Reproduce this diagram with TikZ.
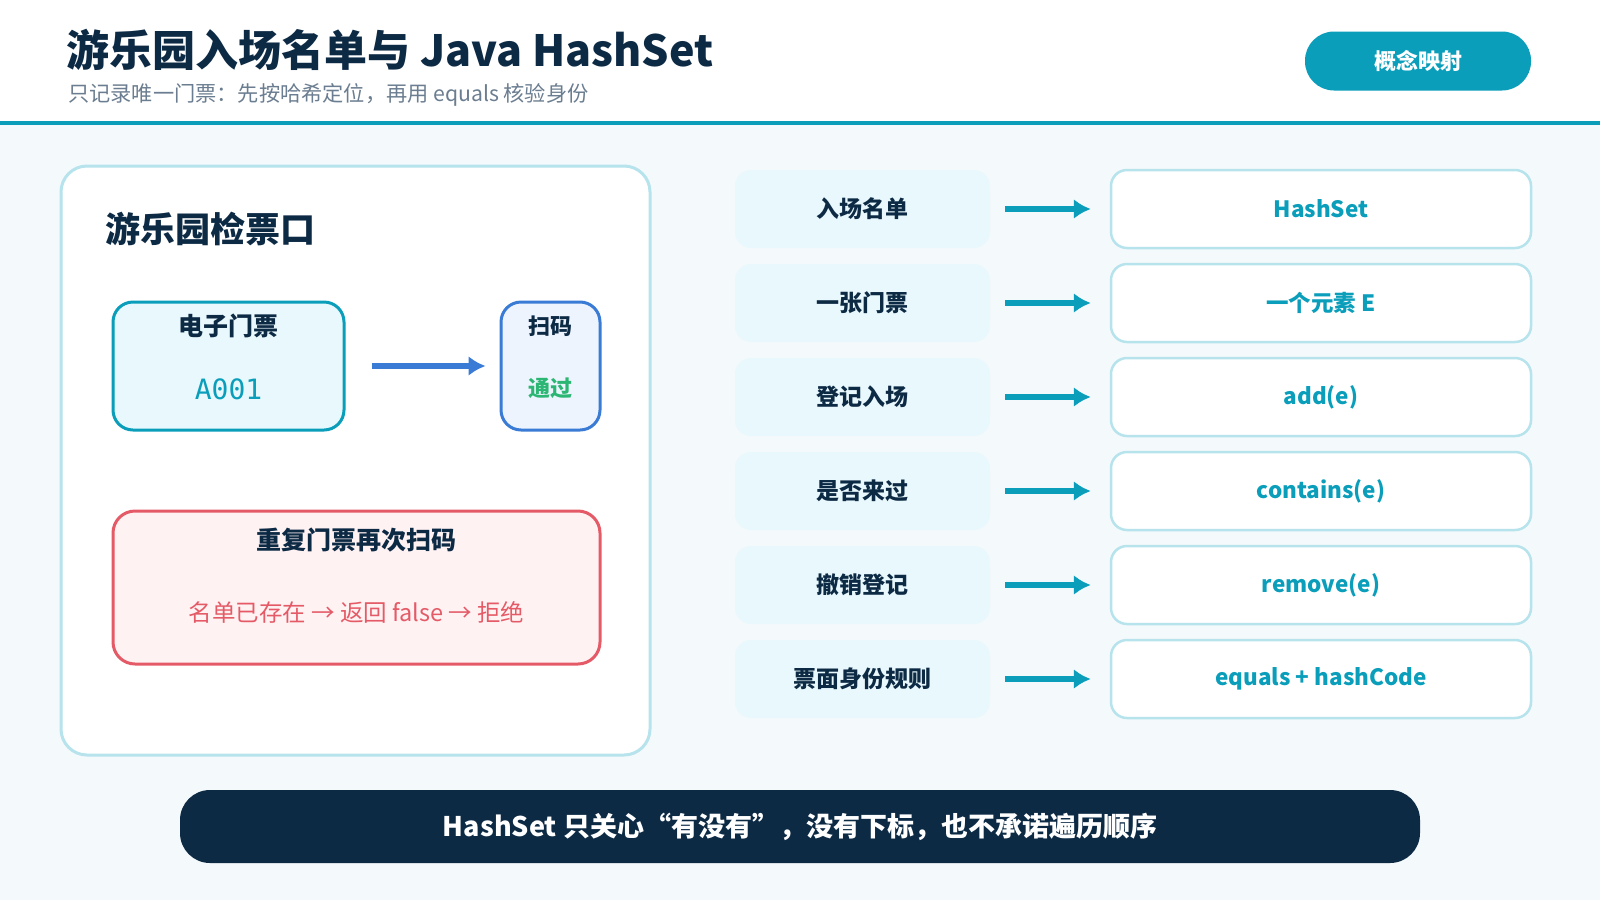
\documentclass[tikz,border=0pt]{standalone}
\usepackage{fontspec}
\setmainfont{Noto Sans CJK SC}
\newfontfamily\monofont{DejaVu Sans Mono}
\usepackage{xcolor}
\usepackage{tikz}
\usetikzlibrary{positioning, arrows.meta}

\definecolor{navy}{HTML}{0D2A45}
\definecolor{teal}{HTML}{0A9EBB}
\definecolor{paleline}{HTML}{B6E3EC}
\definecolor{palefill}{HTML}{E8F8FC}
\definecolor{pagebg}{HTML}{F4F9FC}
\definecolor{scanblue}{HTML}{3A7BD5}
\definecolor{scanfill}{HTML}{EEF4FE}
\definecolor{passgreen}{HTML}{2BB673}
\definecolor{warnred}{HTML}{E45B67}
\definecolor{warnfill}{HTML}{FFF2F3}
\definecolor{subgray}{HTML}{6B7D90}

\tikzset{
	keybox/.style={fill=palefill, rounded corners=16pt, minimum width=255pt, minimum height=78pt, inner sep=0pt, text=navy, font=\fontsize{23}{27}\selectfont\bfseries},
	valbox/.style={fill=white, draw=paleline, line width=2.5pt, rounded corners=16pt, minimum width=420pt, minimum height=78pt, inner sep=0pt, text=teal, font=\fontsize{22.5}{27}\selectfont\bfseries},
	flowarrow/.style={-{Latex[length=17pt, width=20pt]}, line width=6pt},
}

\begin{document}
\begin{tikzpicture}[x=1pt, y=-1pt]
	% Page and header:
	\fill[pagebg] (0, 0) rectangle (1600, 900);
	\fill[white] (0, 0) rectangle (1600, 121);
	\fill[teal] (0, 121) rectangle (1600, 125);
	\node[anchor=base west, inner sep=0pt, text=navy, font=\fontsize{43}{50}\selectfont\bfseries] (title) at (66, 66){游乐园入场名单与 Java HashSet};
	\node[anchor=base west, inner sep=0pt, text=subgray, font=\fontsize{21.2}{26}\selectfont] (subtitle) at (68, 101){只记录唯一门票：先按哈希定位，再用 equals 核验身份};
	\node[fill=teal, rounded corners=29pt, minimum width=226pt, minimum height=59pt, text=white, font=\fontsize{22}{26}\selectfont\bfseries] (badge) at (1418, 61){概念映射};

	% Left panel: ticket gate
	\node[fill=white, draw=paleline, line width=3pt, rounded corners=26pt, minimum width=589pt, minimum height=589pt] (gate) at (355.5, 460.5){};
	\node[anchor=west, inner sep=0pt, text=navy, font=\fontsize{35}{40}\selectfont\bfseries] (gatetitle) at (105, 229){游乐园检票口};
	\node[fill=palefill, draw=teal, line width=3pt, rounded corners=20pt, minimum width=231pt, minimum height=128pt] (ticket) at (228.5, 366){};
	\node[text=navy, font=\fontsize{25}{29}\selectfont\bfseries] (ticketname) at (228.5, 326){电子门票};
	\node[text=teal, font=\fontsize{28}{32}\selectfont\monofont] (ticketid) at (228.5, 389){A001};
	\node[fill=scanfill, draw=scanblue, line width=3pt, rounded corners=20pt, minimum width=99pt, minimum height=128pt] (scan) at (550.5, 366){};
	\node[text=navy, font=\fontsize{22}{26}\selectfont\bfseries] (scanname) at (550.5, 326){扫码};
	\node[text=passgreen, font=\fontsize{22}{26}\selectfont\bfseries] (scanpass) at (550.5, 388){通过};
	\draw[flowarrow, draw=scanblue, fill=scanblue, shorten <=26pt, shorten >=14pt] (ticket) -- (scan);
	\node[fill=warnfill, draw=warnred, line width=3pt, rounded corners=22pt, minimum width=487pt, minimum height=153pt] (repeat) at (356.5, 587.5){};
	\node[text=navy, font=\fontsize{25}{29}\selectfont\bfseries] (repeattitle) at (356.5, 540){重复门票再次扫码};
	\node[text=warnred, font=\fontsize{23.5}{28}\selectfont] (repeatnote) at (356.5, 612){名单已存在 → 返回 false → 拒绝};

	% Right side: concept mapping rows
	\foreach \y/\key/\val [count=\i] in {209/入场名单/HashSet, 303/一张门票/一个元素 E, 397/登记入场/add(e), 491/是否来过/contains(e), 585/撤销登记/remove(e), 679/票面身份规则/equals + hashCode}{
		\node[keybox] (k\i) at (862.5, \y){\key};
		\node[valbox] (v\i) at (1321, \y){\val};
		\draw[flowarrow, draw=teal, fill=teal, shorten <=15pt, shorten >=19pt] (k\i) -- (v\i);
	}

	% Bottom note:
	\node[fill=navy, rounded corners=30pt, minimum width=1240pt, minimum height=73pt, text=white, font=\fontsize{27}{31}\selectfont\bfseries] (note) at (800, 826.5){HashSet 只关心“有没有”，没有下标，也不承诺遍历顺序};
\end{tikzpicture}
\end{document}
